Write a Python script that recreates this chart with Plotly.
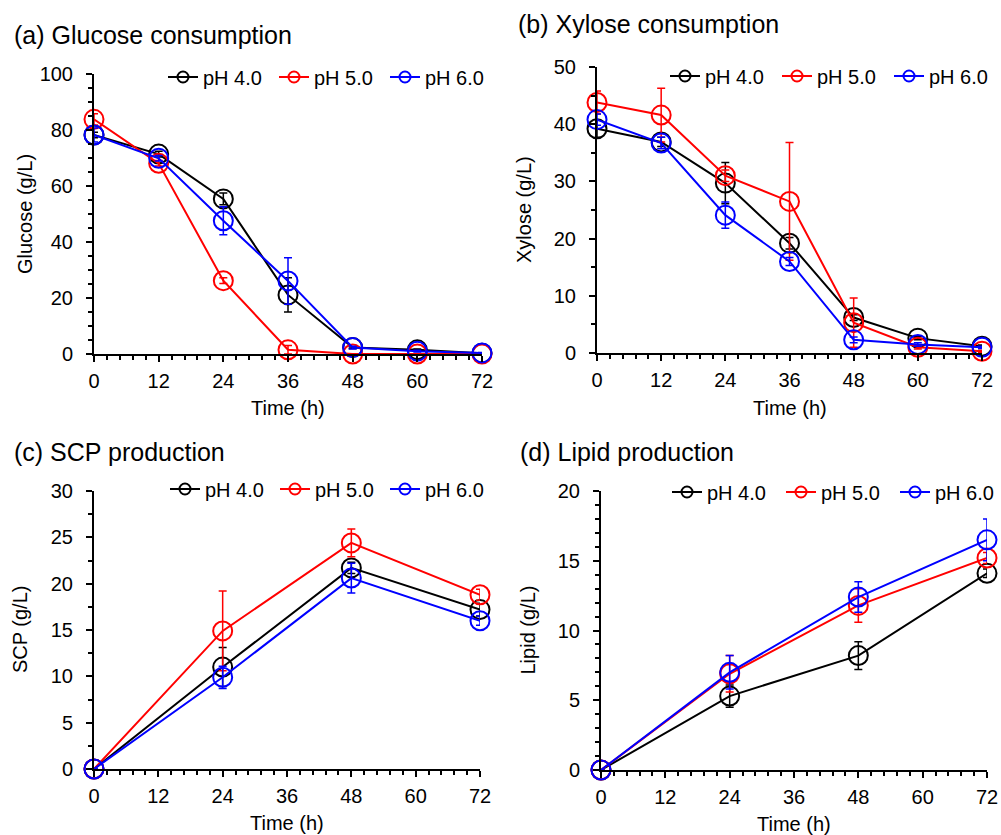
import plotly.graph_objects as go

# ---------------- data ----------------
time_ab = [0, 12, 24, 36, 48, 60, 72]
time_cd = [0, 24, 48, 72]
series_names = ["pH 4.0", "pH 5.0", "pH 6.0"]
series_colors = ["#000000", "#FF0000", "#0000FF"]

glucose_ph4 = [78.2, 71.4, 55.4, 21.1, 2.3, 1.5, 0.3]
glucose_ph4_err = [1.0, 1.0, 2.1, 6.1, 0.3, 0.3, 0.1]
glucose_ph5 = [83.8, 68.1, 26.2, 1.5, 0.0, 0.0, 0.0]
glucose_ph5_err = [2.0, 1.0, 1.0, 1.5, 0.0, 0.0, 0.0]
glucose_ph6 = [78.2, 69.9, 47.6, 26.1, 2.3, 1.0, 0.4]
glucose_ph6_err = [2.5, 1.0, 5.0, 8.3, 0.5, 0.3, 0.1]

xylose_ph4 = [39.2, 36.9, 29.7, 19.2, 6.2, 2.6, 1.2]
xylose_ph4_err = [1.5, 0.8, 3.6, 1.0, 0.5, 0.3, 0.2]
xylose_ph5 = [43.8, 41.6, 31.0, 26.5, 5.3, 1.0, 0.3]
xylose_ph5_err = [2.0, 4.7, 1.0, 10.3, 4.3, 0.3, 0.2]
xylose_ph6 = [40.8, 36.7, 24.1, 16.0, 2.3, 1.5, 1.0]
xylose_ph6_err = [1.0, 1.0, 2.3, 0.7, 0.5, 0.3, 0.2]

scp_ph4 = [0.0, 11.0, 21.7, 17.2]
scp_ph4_err = [0.0, 2.1, 0.6, 0.7]
scp_ph5 = [0.0, 14.9, 24.4, 18.8]
scp_ph5_err = [0.0, 4.3, 1.5, 0.6]
scp_ph6 = [0.0, 9.9, 20.6, 16.0]
scp_ph6_err = [0.0, 1.2, 1.6, 0.5]

lipid_ph4 = [0.0, 5.3, 8.2, 14.1]
lipid_ph4_err = [0.0, 0.8, 1.0, 0.3]
lipid_ph5 = [0.0, 6.9, 11.8, 15.2]
lipid_ph5_err = [0.0, 1.3, 1.2, 0.4]
lipid_ph6 = [0.0, 7.0, 12.4, 16.5]
lipid_ph6_err = [0.0, 1.2, 1.1, 1.5]

x_ticks = [0, 12, 24, 36, 48, 60, 72]
x_title = "Time (h)"
panel_titles = ["(a) Glucose consumption", "(b) Xylose consumption",
                "(c) SCP production", "(d) Lipid production"]
y_titles = ["Glucose (g/L)", "Xylose (g/L)", "SCP (g/L)", "Lipid (g/L)"]
y_max = [100, 50, 30, 20]
y_dtick = [20, 10, 5, 5]
y_minor = [5, 5, 2.5, 1]

# ---------------- layout helpers ----------------
W, H = 1001, 835
FONT = "Liberation Sans, Arial, sans-serif"


def fx(p):
    return p / W


def fy(p):
    return 1 - p / H


panels = [
    dict(time=time_ab, series=[(glucose_ph4, glucose_ph4_err), (glucose_ph5, glucose_ph5_err), (glucose_ph6, glucose_ph6_err)],
         xd=(94, 482), yd=(74, 354), title_xy=(12, 35), ytitle_x=25, xtitle_y=408, leg=(163, 77), entry=66),
    dict(time=time_ab, series=[(xylose_ph4, xylose_ph4_err), (xylose_ph5, xylose_ph5_err), (xylose_ph6, xylose_ph6_err)],
         xd=(597, 982), yd=(67, 353), title_xy=(516, 24), ytitle_x=524, xtitle_y=408, leg=(665, 76), entry=67),
    dict(time=time_cd, series=[(scp_ph4, scp_ph4_err), (scp_ph5, scp_ph5_err), (scp_ph6, scp_ph6_err)],
         xd=(94, 480), yd=(491, 769), title_xy=(12, 452), ytitle_x=20, xtitle_y=823, leg=(165, 489), entry=65),
    dict(time=time_cd, series=[(lipid_ph4, lipid_ph4_err), (lipid_ph5, lipid_ph5_err), (lipid_ph6, lipid_ph6_err)],
         xd=(601, 987), yd=(491, 770), title_xy=(518, 452), ytitle_x=527, xtitle_y=824, leg=(667, 492), entry=69),
]

fig = go.Figure()
layout = dict(
    width=W, height=H,
    margin=dict(l=0, r=0, t=0, b=0, autoexpand=False),
    paper_bgcolor="white", plot_bgcolor="white",
    font=dict(family=FONT, size=20, color="black"),
    showlegend=True,
)
annotations = []

for i, p in enumerate(panels):
    k = "" if i == 0 else str(i + 1)
    xa, ya = "x" + k, "y" + k
    leg = "legend" + k
    for j, (vals, errs) in enumerate(p["series"]):
        c = series_colors[j]
        fig.add_trace(go.Scatter(
            x=p["time"], y=vals, name=series_names[j], mode="lines+markers",
            xaxis=xa, yaxis=ya, showlegend=False, cliponaxis=False,
            line=dict(color=c, width=2),
            marker=dict(symbol="circle-open", size=19, color=c, line=dict(width=2, color=c)),
            error_y=dict(type="data", array=errs, visible=True, color=c, thickness=1.5, width=4),
        ))
    # legend-only entries (small symbols as in the reference legend)
    for j in range(len(series_names)):
        c = series_colors[j]
        fig.add_trace(go.Scatter(
            x=[None], y=[None], name=series_names[j], mode="lines+markers",
            xaxis=xa, yaxis=ya, legend=leg, showlegend=True,
            line=dict(color=c, width=2),
            marker=dict(symbol="circle-open", size=11, color=c, line=dict(width=2, color=c)),
        ))
    axis_common = dict(showline=True, linecolor="black", linewidth=2, showgrid=False, zeroline=False,
                       automargin=False,
                       ticks="outside", tickcolor="black", tickwidth=2, ticklen=6,
                       tickfont=dict(family=FONT, size=20, color="black"))
    layout["xaxis" + k] = dict(
        axis_common, domain=[fx(p["xd"][0]), fx(p["xd"][1])], anchor=ya,
        range=[0, 72], tickmode="array", tickvals=x_ticks, ticklabelstandoff=2,
        minor=dict(dtick=2.4, tick0=0, ticks="outside", ticklen=4, tickcolor="black", tickwidth=1.5),
    )
    layout["yaxis" + k] = dict(
        axis_common, domain=[fy(p["yd"][1]), fy(p["yd"][0])], anchor=xa,
        range=[0, y_max[i]], tick0=0, dtick=y_dtick[i], ticklabelstandoff=9,
        minor=dict(dtick=y_minor[i], tick0=0, ticks="outside", ticklen=4, tickcolor="black", tickwidth=1.5),
    )
    layout[leg] = dict(
        x=fx(p["leg"][0]), y=fy(p["leg"][1]), xanchor="left", yanchor="middle",
        orientation="h", bgcolor="rgba(0,0,0,0)", borderwidth=0,
        font=dict(family=FONT, size=20, color="black"), itemsizing="trace",
        entrywidth=p["entry"], entrywidthmode="pixels",
    )
    annotations.append(dict(text=panel_titles[i], x=fx(p["title_xy"][0]), y=fy(p["title_xy"][1]),
                            xref="paper", yref="paper", xanchor="left", yanchor="middle",
                            showarrow=False, font=dict(family=FONT, size=25, color="black")))
    annotations.append(dict(text=y_titles[i], x=fx(p["ytitle_x"]), y=fy((p["yd"][0] + p["yd"][1]) / 2),
                            xref="paper", yref="paper", xanchor="center", yanchor="middle", textangle=-90,
                            showarrow=False, font=dict(family=FONT, size=20, color="black")))
    annotations.append(dict(text=x_title, x=fx((p["xd"][0] + p["xd"][1]) / 2), y=fy(p["xtitle_y"]),
                            xref="paper", yref="paper", xanchor="center", yanchor="middle",
                            showarrow=False, font=dict(family=FONT, size=20, color="black")))

layout["annotations"] = annotations
fig.update_layout(**layout)
fig.write_html("out.html", config={"displayModeBar": False},
               post_script="document.body.style.margin='0';")
